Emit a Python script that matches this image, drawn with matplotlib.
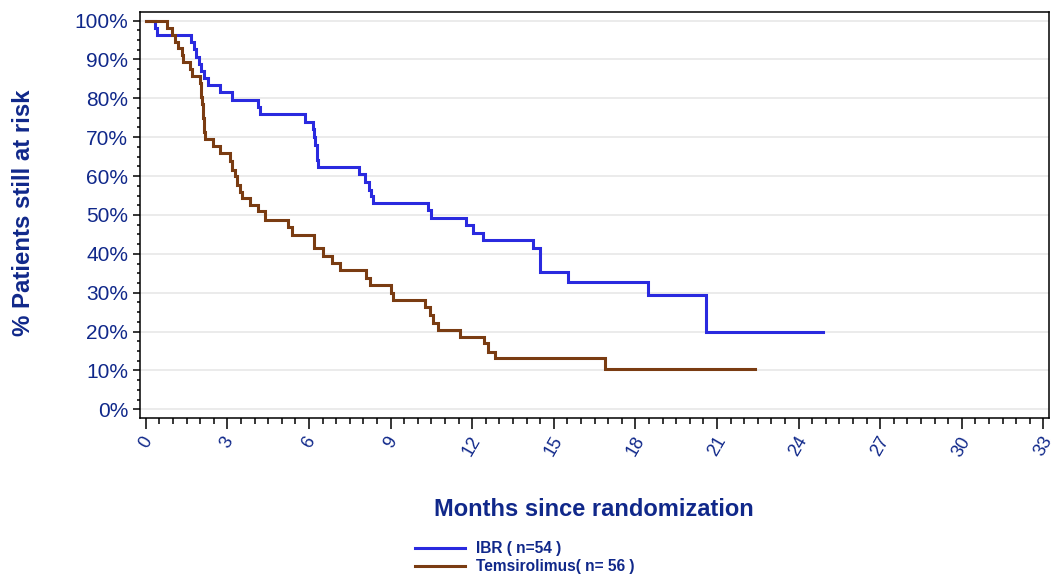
import matplotlib
matplotlib.use("Agg")
import matplotlib.pyplot as plt
from matplotlib.ticker import MultipleLocator, FixedLocator
from matplotlib.lines import Line2D

plt.rcParams['font.family'] = ['Liberation Sans', 'DejaVu Sans']

# ---- data ----
ibr_label = "IBR ( n=54 )"
ibr_months = [0, 0.33, 0.43, 1.68, 1.76, 1.86, 1.95, 2.04, 2.14, 2.30, 2.73, 3.16,
              4.13, 4.20, 5.86, 6.14, 6.20, 6.24, 6.28, 6.31, 6.35, 7.85, 8.06,
              8.20, 8.28, 8.35, 10.38, 10.48, 11.78, 12.04, 12.41, 14.25, 14.50,
              15.51, 18.48, 20.60, 24.90]
ibr_surv = [100, 98.1, 96.3, 94.4, 92.6, 90.7, 88.9, 87.0, 85.2, 83.3, 81.5, 79.6,
            77.8, 75.9, 74.0, 72.0, 70.0, 68.0, 66.0, 64.2, 62.3, 60.5, 58.6,
            56.3, 54.8, 53.0, 51.2, 49.3, 47.4, 45.4, 43.5, 41.6, 35.4,
            32.8, 29.5, 19.8, 19.8]

tem_label = "Temsirolimus( n= 56 )"
tem_months = [0, 0.77, 0.96, 1.08, 1.20, 1.32, 1.38, 1.63, 1.69, 2.00, 2.03, 2.05,
              2.07, 2.09, 2.11, 2.13, 2.15, 2.18, 2.49, 2.73, 3.10, 3.16, 3.28,
              3.35, 3.47, 3.53, 3.83, 4.14, 4.39, 5.24, 5.37, 6.19, 6.53, 6.84,
              7.14, 8.10, 8.25, 9.00, 9.10, 10.27, 10.45, 10.57, 10.76, 11.56,
              12.44, 12.60, 12.84, 16.89, 22.40]
tem_surv = [100, 98.2, 96.4, 94.6, 92.9, 91.1, 89.3, 87.5, 85.7, 83.9, 82.1, 80.4,
            78.6, 76.8, 75.0, 73.2, 71.4, 69.6, 67.8, 66.0, 63.9, 61.6, 59.9,
            57.7, 56.0, 54.3, 52.6, 50.9, 48.7, 47.0, 44.8, 41.6, 39.5, 37.6,
            35.8, 33.7, 32.0, 29.9, 28.1, 26.4, 24.3, 22.1, 20.4, 18.7,
            17.0, 14.8, 13.1, 10.5, 10.5]

x_ticks = list(range(0, 34, 3))
y_ticks = list(range(0, 101, 10))
y_ticklabels = [f"{v}%" for v in y_ticks]

# ---- style ----
navy = '#10288a'
blue = '#2a2adf'
brown = '#7a3c12'

W, H = 1051, 583
fig = plt.figure(figsize=(W / 100, H / 100), dpi=100)
fig.patch.set_facecolor('white')
left, right, top, bottom = 140, 1049.3, 12, 418.3
ax = fig.add_axes([left / W, 1 - bottom / H, (right - left) / W, (bottom - top) / H])

ax.step(ibr_months, ibr_surv, where='post', color=blue, lw=2.2, solid_joinstyle='miter')
ax.step(tem_months, tem_surv, where='post', color=brown, lw=2.2, solid_joinstyle='miter')

ax.set_xlim(-0.21, 33.22)
ax.set_ylim(-2.3, 102.2)

ax.xaxis.set_major_locator(FixedLocator(x_ticks))
ax.xaxis.set_minor_locator(MultipleLocator(0.5))
ax.yaxis.set_major_locator(FixedLocator(y_ticks))
ax.yaxis.set_minor_locator(MultipleLocator(2.5))
ax.set_yticklabels(y_ticklabels)
ax.set_xticklabels([str(v) for v in x_ticks])

ax.grid(axis='y', which='major', color='#e6e6e6', lw=1.1)
ax.set_axisbelow(True)

for sp in ax.spines.values():
    sp.set_linewidth(1.1)
    sp.set_color('black')

ax.tick_params(axis='x', which='major', length=8, width=1.1, direction='out', pad=3,
               labelsize=13, labelcolor=navy)
ax.tick_params(axis='x', which='minor', length=4.3, width=1.1, direction='out')
ax.tick_params(axis='y', which='major', length=5, width=1.1, direction='out', pad=3.5,
               labelsize=15, labelcolor=navy)
ax.tick_params(axis='y', which='minor', length=2.5, width=1.1, direction='out')

for lab in ax.get_xticklabels():
    lab.set_rotation(60)
    lab.set_ha('center')
    lab.set_va('top')

fig.text(24 / W, 1 - 213 / H, "% Patients still at risk", rotation=90, color=navy,
         fontsize=17.3, fontweight='bold', ha='center', va='center')
fig.text(594 / W, 1 - 509 / H, "Months since randomization", color=navy,
         fontsize=17, fontweight='bold', ha='center', va='center')

handles = [Line2D([], [], color=blue, lw=2.2), Line2D([], [], color=brown, lw=2.2)]
leg = fig.legend(handles, [ibr_label, tem_label], loc='upper left',
                 bbox_to_anchor=(415 / W, 1 - 541 / H), frameon=False,
                 handlelength=3.2, handletextpad=0.75, labelspacing=0.22,
                 prop={'size': 11.2, 'weight': 'bold'}, borderaxespad=0, borderpad=0)
for t in leg.get_texts():
    t.set_color(navy)

fig.savefig('out.png', dpi=100)
